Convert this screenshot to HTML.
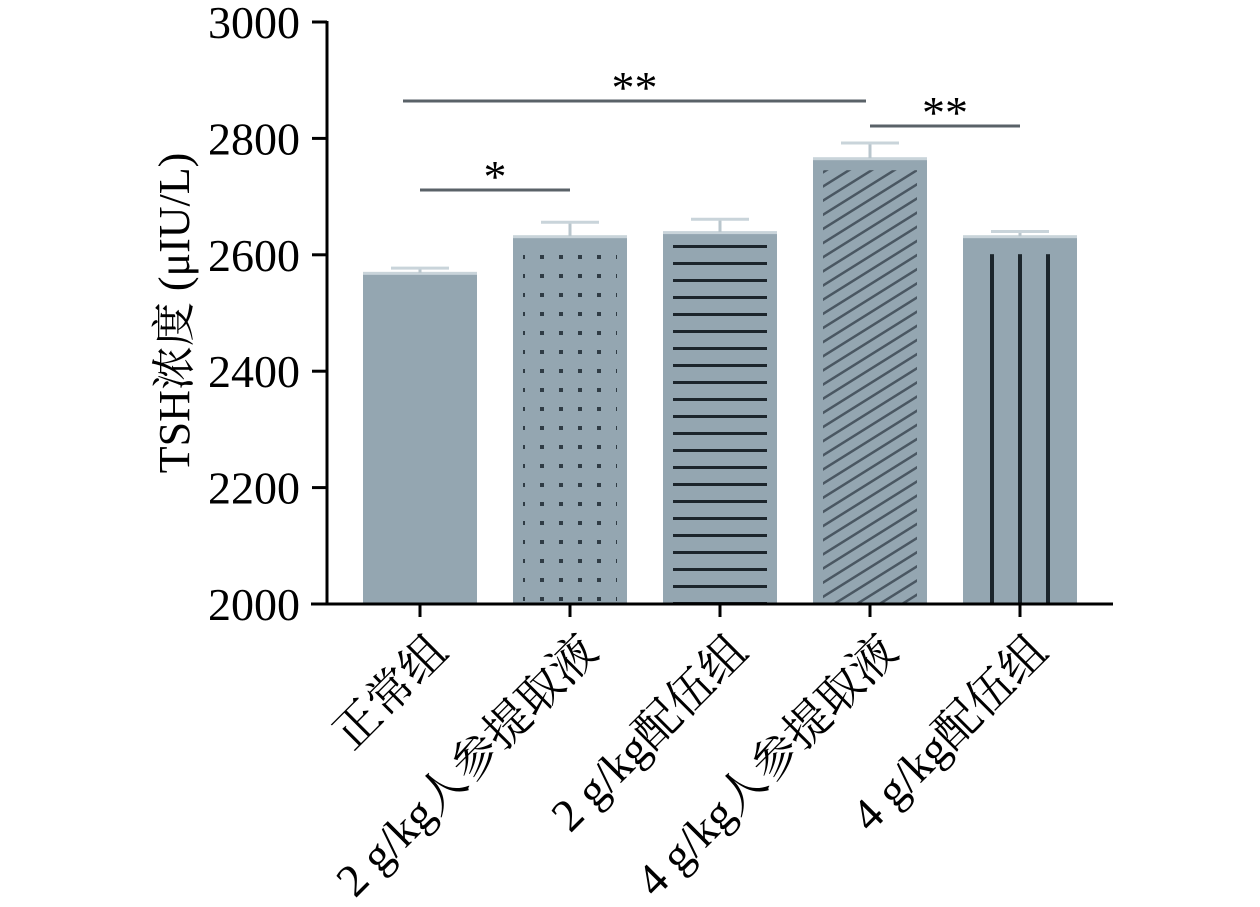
<!DOCTYPE html>
<html><head><meta charset="utf-8">
<style>
html,body{margin:0;padding:0;background:#fff;}
svg text{font-family:"Liberation Serif","Noto Serif CJK SC",serif;fill:#000;}
</style></head>
<body>
<svg id="chart" width="1260" height="902" viewBox="0 0 1260 902" xmlns="http://www.w3.org/2000/svg">
<defs>
<pattern id="p-dots" patternUnits="userSpaceOnUse" width="19" height="19" x="0" y="0">
<rect x="8" y="8" width="4" height="4" fill="#2f3b44"/>
</pattern>
<pattern id="p-hlines" patternUnits="userSpaceOnUse" width="20" height="17">
<rect x="0" y="7" width="20" height="3" fill="#1c252c"/>
</pattern>
<pattern id="p-diag" patternUnits="userSpaceOnUse" width="12" height="12" patternTransform="rotate(-32)">
<rect x="0" y="5" width="12" height="2.5" fill="#4a5762"/>
</pattern>
</defs>
<g id="plot"></g>
</svg>
<script>
const categories = ["正常组","2 g/kg人参提取液","2 g/kg配伍组","4 g/kg人参提取液","4 g/kg配伍组"];
const means = [2569, 2632, 2639, 2766, 2632];
const errors = [8, 24, 22, 26, 8];
const yTicks = [2000, 2200, 2400, 2600, 2800, 3000];
const patterns = ["none","dots","hlines","diag","vlines"];
const sigBars = [[0,3,"**"],[0,1,"*"],[3,4,"**"]];

const NS="http://www.w3.org/2000/svg";
const g=document.getElementById('plot');
const x0=327, yBase=604, yTop=22, yMin=2000, yMax=3000;
function y(v){return yBase-(v-yMin)/(yMax-yMin)*(yBase-yTop);}
function xc(i){return 420+i*150;}
const bw=114;
function el(t,a){const e=document.createElementNS(NS,t);for(const k in a)e.setAttribute(k,a[k]);g.appendChild(e);return e;}

categories.forEach((c,i)=>{
  const bx=xc(i)-bw/2, by=y(means[i]);
  const r=el('rect',{x:bx,y:by,width:bw,height:yBase-by,fill:'#94a6b1'});
  
  
  const p=patterns[i];
  if(p==='dots'||p==='hlines'||p==='diag'){
    const o=el('rect',{x:bx+10,y:by+12,width:bw-20,height:yBase-by-12,fill:'url(#p-'+p+')'});
    
    
  }
  if(p==='vlines'){
    [-28,0,28].forEach(dx=>{
      const l=el('rect',{x:xc(i)+dx-2,y:by+18,width:4,height:yBase-by-18,fill:'#1c252c'});
      
      
    });
  }
  const hl=el('rect',{x:bx,y:by-1,width:bw,height:3,fill:'#c9d4da'});
  
  
  const et=y(means[i]+errors[i]);
  const ev=el('line',{x1:xc(i),x2:xc(i),y1:et,y2:by,stroke:'#b9c6cd','stroke-width':3});
  
  
  const ec=el('line',{x1:xc(i)-29,x2:xc(i)+29,y1:et,y2:et,stroke:'#c9d4da','stroke-width':3});
  
  
  const tk=el('line',{x1:xc(i),x2:xc(i),y1:yBase,y2:yBase+13,stroke:'#000','stroke-width':3});
  
  
  const tx=el('text',{x:0,y:0,'font-size':46,'text-anchor':'end',transform:`translate(${xc(i)+30},${yBase+50}) rotate(-45)`});
  tx.textContent=c;
  
  
});

yTicks.forEach(v=>{
  const t=el('line',{x1:x0-15,x2:x0,y1:y(v),y2:y(v),stroke:'#000','stroke-width':3});
  
  
  const l=el('text',{x:300,y:y(v)+16,'font-size':46,'text-anchor':'end'});
  l.textContent=v;
  
  
});
const ya=el('line',{x1:x0,x2:x0,y1:yTop-1,y2:yBase+1.5,stroke:'#000','stroke-width':3});


const xa=el('line',{x1:311,x2:1113,y1:yBase,y2:yBase,stroke:'#000','stroke-width':3});


const yt=el('text',{x:0,y:0,'font-size':44,'text-anchor':'middle',transform:'translate(189,313) rotate(-90)'});
yt.textContent='TSH浓度 (μIU/L)';



const sigY=[101,190,126];
sigBars.forEach((s,k)=>{
  const a=s[0]===0&&s[1]===3?403:xc(s[0]), b=s[1]===3&&s[0]===0?866:xc(s[1]);
  const ln=el('line',{x1:a,x2:b,y1:sigY[k],y2:sigY[k],stroke:'#5a6268','stroke-width':3});
  
  
  const st=el('text',{x:(a+b)/2,y:sigY[k]+2,'font-size':46,'text-anchor':'middle'});
  st.textContent=s[2];
  
  
});
</script>
</body></html>
